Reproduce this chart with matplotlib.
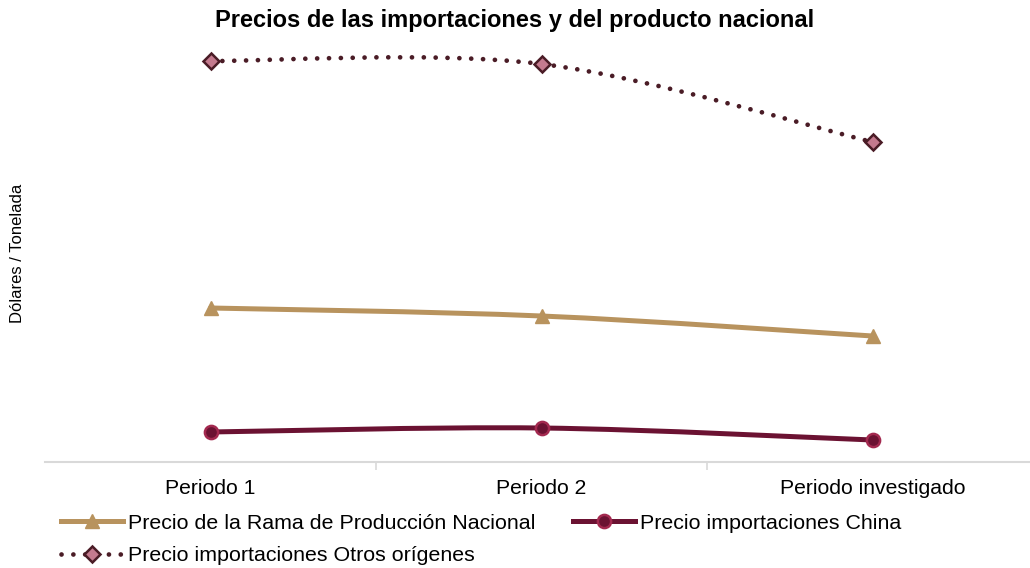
import matplotlib.pyplot as plt
from matplotlib.path import Path
from matplotlib.patches import PathPatch
from matplotlib.lines import Line2D

plt.rcParams['font.family'] = ['Liberation Sans', 'DejaVu Sans']

periodos = ["Periodo 1", "Periodo 2", "Periodo investigado"]
# valores (sin escala visible en el original)
rama = [154, 146, 126]
china = [30, 34, 22]
otros = [401, 398, 320]

c_rama = "#B8935E"
c_china = "#6B1232"
c_china_borde = "#A3294F"
c_otros = "#4A1C26"
c_otros_cara = "#C47A8E"

punteado = (0, (0.01, 2.5))


def curva_suave(xs, ys):
    # línea suavizada tipo Excel (Bezier con tangentes Catmull-Rom)
    pts = list(zip(xs, ys))
    n = len(pts)
    verts = [pts[0]]
    codes = [Path.MOVETO]
    for i in range(n - 1):
        p0 = pts[max(i - 1, 0)]
        p1 = pts[i]
        p2 = pts[i + 1]
        p3 = pts[min(i + 2, n - 1)]
        c1 = (p1[0] + (p2[0] - p0[0]) / 6, p1[1] + (p2[1] - p0[1]) / 6)
        c2 = (p2[0] - (p3[0] - p1[0]) / 6, p2[1] - (p3[1] - p1[1]) / 6)
        verts += [c1, c2, p2]
        codes += [Path.CURVE4] * 3
    return Path(verts, codes)


fig = plt.figure(figsize=(10.30, 5.68), dpi=100)
ax = fig.add_axes([45 / 1030, 1 - 462 / 568, 993 / 1030, 422 / 568])

x = range(len(periodos))

ax.add_patch(PathPatch(curva_suave(x, rama), fill=False, edgecolor=c_rama, lw=3.6,
                       capstyle='round', zorder=2))
ax.add_patch(PathPatch(curva_suave(x, china), fill=False, edgecolor=c_china, lw=3.6,
                       capstyle='round', zorder=2))
ax.add_patch(PathPatch(curva_suave(x, otros), fill=False, edgecolor=c_otros, lw=3.4,
                       linestyle=punteado, capstyle='round', zorder=2))

ax.plot(x, rama, linestyle='none', marker='^', markersize=10.5, color=c_rama, zorder=3)
ax.plot(x, china, linestyle='none', marker='o', markersize=9.5, markerfacecolor=c_china,
        markeredgecolor=c_china_borde, markeredgewidth=1.8, zorder=3)
ax.plot(x, otros, linestyle='none', marker='D', markersize=8, markerfacecolor=c_otros_cara,
        markeredgecolor=c_otros, markeredgewidth=1.8, zorder=3)

ax.set_xlim(-0.5, 2.5)
ax.set_ylim(0, 422)
ax.set_xticks([0.5, 1.5], minor=False)
ax.set_xticklabels([])
ax.set_xticks(list(x), minor=True)
ax.set_xticklabels(periodos, minor=True, fontsize=15.2)
ax.tick_params(axis='x', which='minor', length=0, pad=12)
ax.tick_params(axis='x', which='major', length=6, color="#D9D9D9", width=1.2)
ax.set_yticks([])
for s in ['top', 'right', 'left']:
    ax.spines[s].set_visible(False)
ax.spines['bottom'].set_color("#D9D9D9")
ax.spines['bottom'].set_linewidth(1.5)

fig.text(0.5, 1 - 20 / 568, "Precios de las importaciones y del producto nacional",
         ha='center', va='center', fontsize=17, fontweight='bold')
fig.text(18 / 1030, 1 - 253 / 568, "Dólares / Tonelada", rotation=90,
         ha='center', va='center', fontsize=12)

handles = [
    Line2D([], [], color=c_rama, lw=3.6, marker='^', markersize=10.5),
    Line2D([], [], color=c_china, lw=3.6, marker='o', markersize=9.5,
           markerfacecolor=c_china, markeredgecolor=c_china_borde, markeredgewidth=1.8),
    Line2D([], [], color=c_otros, lw=3.4, linestyle=punteado, dash_capstyle='round',
           marker='D', markersize=8, markerfacecolor=c_otros_cara,
           markeredgecolor=c_otros, markeredgewidth=1.8),
]
etiquetas = ["Precio de la Rama de Producción Nacional", "Precio importaciones China",
             "Precio importaciones Otros orígenes"]
# orden para ncol=2: columna 1 = Rama, Otros; columna 2 = China
fig.legend([handles[0], handles[2], handles[1]], [etiquetas[0], etiquetas[2], etiquetas[1]],
           ncol=2, loc='upper left', bbox_to_anchor=(50 / 1030, 1 - 503 / 568),
           frameon=False, fontsize=15.4, handlelength=2.9, handletextpad=0.25,
           columnspacing=1.75, labelspacing=0.64, borderpad=0)

fig.savefig("out.png", dpi=100)
